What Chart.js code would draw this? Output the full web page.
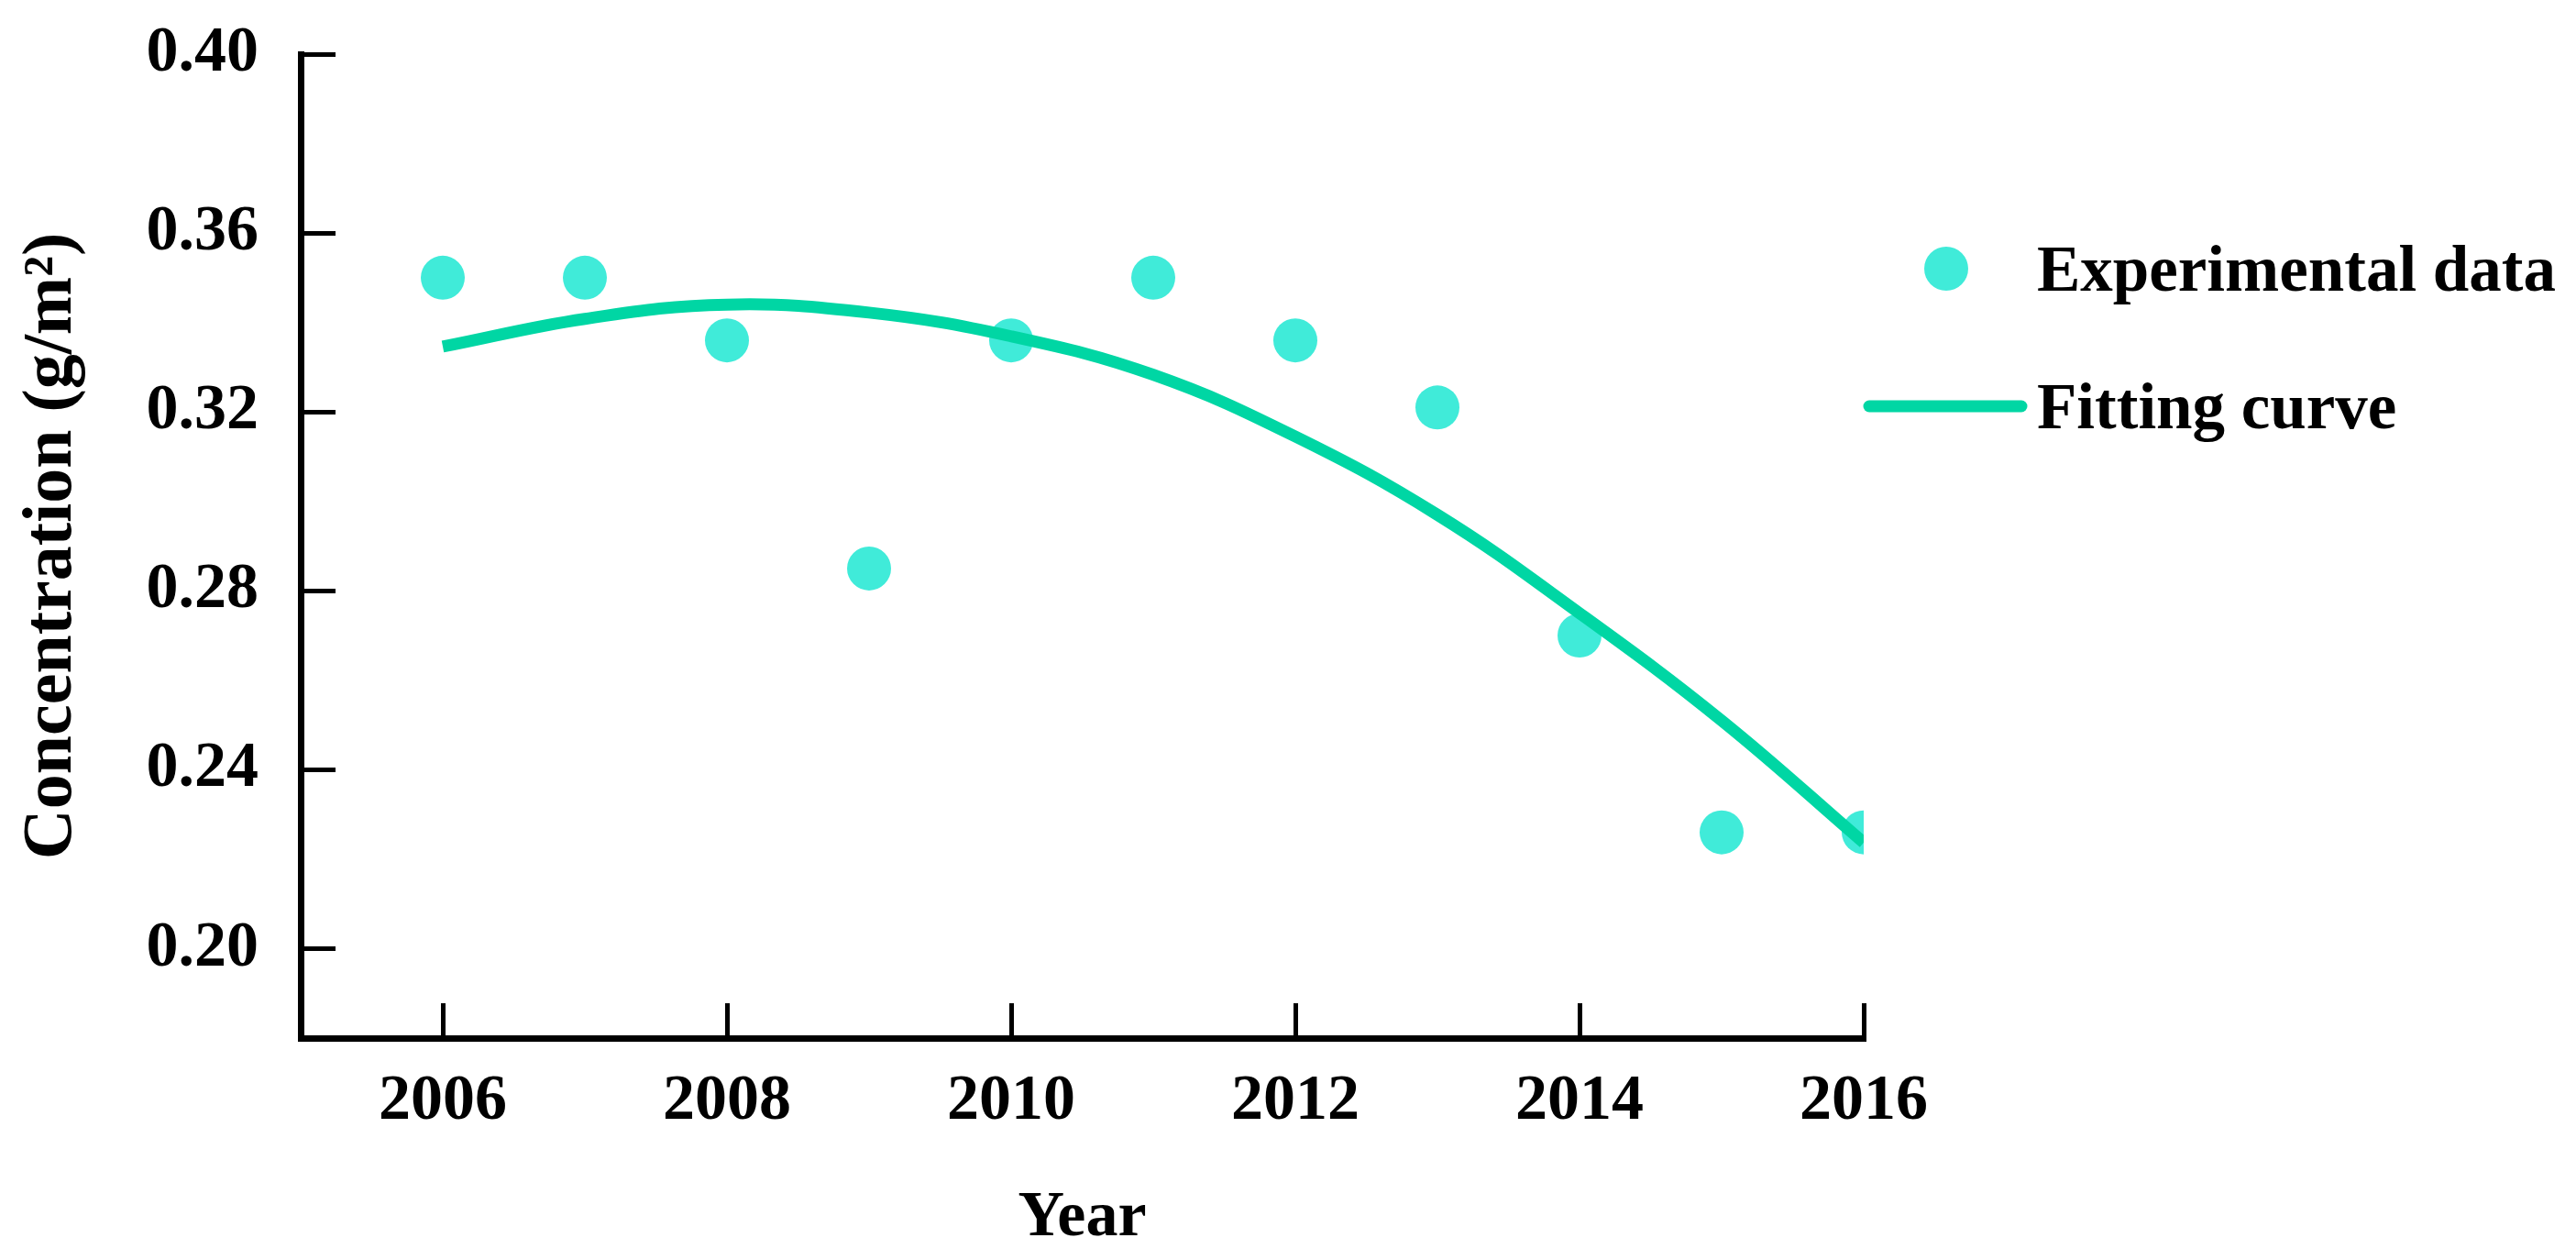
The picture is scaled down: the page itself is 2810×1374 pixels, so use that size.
<!DOCTYPE html>
<html>
<head>
<meta charset="utf-8">
<script src="https://cdn.jsdelivr.net/npm/chart.js@4.4.1/dist/chart.umd.min.js"></script>
<style>
  html, body { margin: 0; padding: 0; background: #fff; }
  #wrap { width: 2810px; height: 1374px; }
</style>
</head>
<body>
<div id="wrap"><canvas id="chart" width="2810" height="1374"></canvas></div>
<script>
// data
const years = [2006, 2007, 2008, 2009, 2010, 2011, 2012, 2013, 2014, 2015, 2016];
const experimental = [0.350, 0.350, 0.336, 0.285, 0.336, 0.350, 0.336, 0.321, 0.270, 0.226, 0.226];
const fitted = [0.3346, 0.3408, 0.3440, 0.3422, 0.3369, 0.3283, 0.3145, 0.2970, 0.2750, 0.2510, 0.2237];
const xTicks = [2006, 2008, 2010, 2012, 2014, 2016];
const yTicks = [0.20, 0.24, 0.28, 0.32, 0.36, 0.40];
const seriesNames = ['Experimental data', 'Fitting curve'];

const serif = '"Liberation Serif", "Times New Roman", serif';
const tickFont = { family: serif, size: 70, weight: 'bold' };

// legend drawn to the right of the plot, like the original figure
const sideLegend = {
  id: 'sideLegend',
  afterDraw(chart) {
    const { ctx, chartArea } = chart;
    const dsPts = chart.data.datasets[1];
    const dsFit = chart.data.datasets[0];
    const r = chartArea.right;
    ctx.save();
    // circle marker
    ctx.fillStyle = dsPts.pointBackgroundColor;
    ctx.beginPath();
    ctx.arc(r + 90, 293, dsPts.pointRadius, 0, Math.PI * 2);
    ctx.fill();
    // line marker
    ctx.strokeStyle = dsFit.borderColor;
    ctx.lineWidth = dsFit.borderWidth;
    ctx.lineCap = 'round';
    ctx.beginPath();
    ctx.moveTo(r + 6, 443);
    ctx.lineTo(r + 172, 443);
    ctx.stroke();
    // texts
    ctx.fillStyle = '#000';
    ctx.font = 'bold 71px ' + serif;
    ctx.textAlign = 'left';
    ctx.textBaseline = 'alphabetic';
    ctx.fillText(dsPts.label, r + 189, 317);
    ctx.fillText(dsFit.label, r + 189, 467);
    ctx.restore();
  }
};

new Chart(document.getElementById('chart'), {
  type: 'line',
  data: {
    datasets: [{
      label: seriesNames[1],
      data: years.map((x, i) => ({ x, y: fitted[i] })),
      borderColor: '#00D6A4',
      borderWidth: 13,
      pointRadius: 0,
      tension: 0.4,
      fill: false,
      order: 0
    }, {
      label: seriesNames[0],
      data: years.map((x, i) => ({ x, y: experimental[i] })),
      showLine: false,
      pointRadius: 24,
      pointBackgroundColor: '#40EBD9',
      pointBorderWidth: 0,
      clip: 0,
      order: 1
    }]
  },
  options: {
    responsive: false,
    animation: false,
    layout: { padding: { top: 59, right: 777, bottom: 0, left: 0 } },
    plugins: {
      legend: { display: false },
      tooltip: { enabled: false }
    },
    scales: {
      x: {
        type: 'linear',
        min: 2005,
        max: 2016,
        afterBuildTicks: s => { s.ticks = xTicks.map(v => ({ value: v })); },
        afterFit: s => { s.height = 242; },
        grid: { drawOnChartArea: false, tickLength: -38, color: '#000', lineWidth: 5 },
        border: { display: true, width: 7, color: '#000' },
        ticks: {
          padding: 66,
          color: '#000',
          font: tickFont,
          maxRotation: 0,
          callback: v => String(v)
        },
        title: {
          display: true,
          text: 'Year',
          color: '#000',
          font: { family: serif, size: 70, weight: 'bold' },
          padding: { top: 0, bottom: 3 }
        }
      },
      y: {
        min: 0.18,
        max: 0.40,
        afterBuildTicks: s => { s.ticks = yTicks.map(v => ({ value: v })); },
        afterFit: s => { s.width = 328; s.paddingTop = 0; s.paddingBottom = 0; },
        grid: { drawOnChartArea: false, tickLength: -38, color: '#000', lineWidth: 5 },
        border: { display: true, width: 7, color: '#000' },
        ticks: {
          padding: 84,
          color: '#000',
          font: tickFont,
          callback: v => Number(v).toFixed(2)
        },
        title: {
          display: true,
          text: 'Concentration (g/m²)',
          color: '#000',
          font: { family: serif, size: 76, weight: 'bold' },
          padding: { top: 12, bottom: 0 }
        }
      }
    }
  },
  plugins: [sideLegend]
});
</script>
</body>
</html>
